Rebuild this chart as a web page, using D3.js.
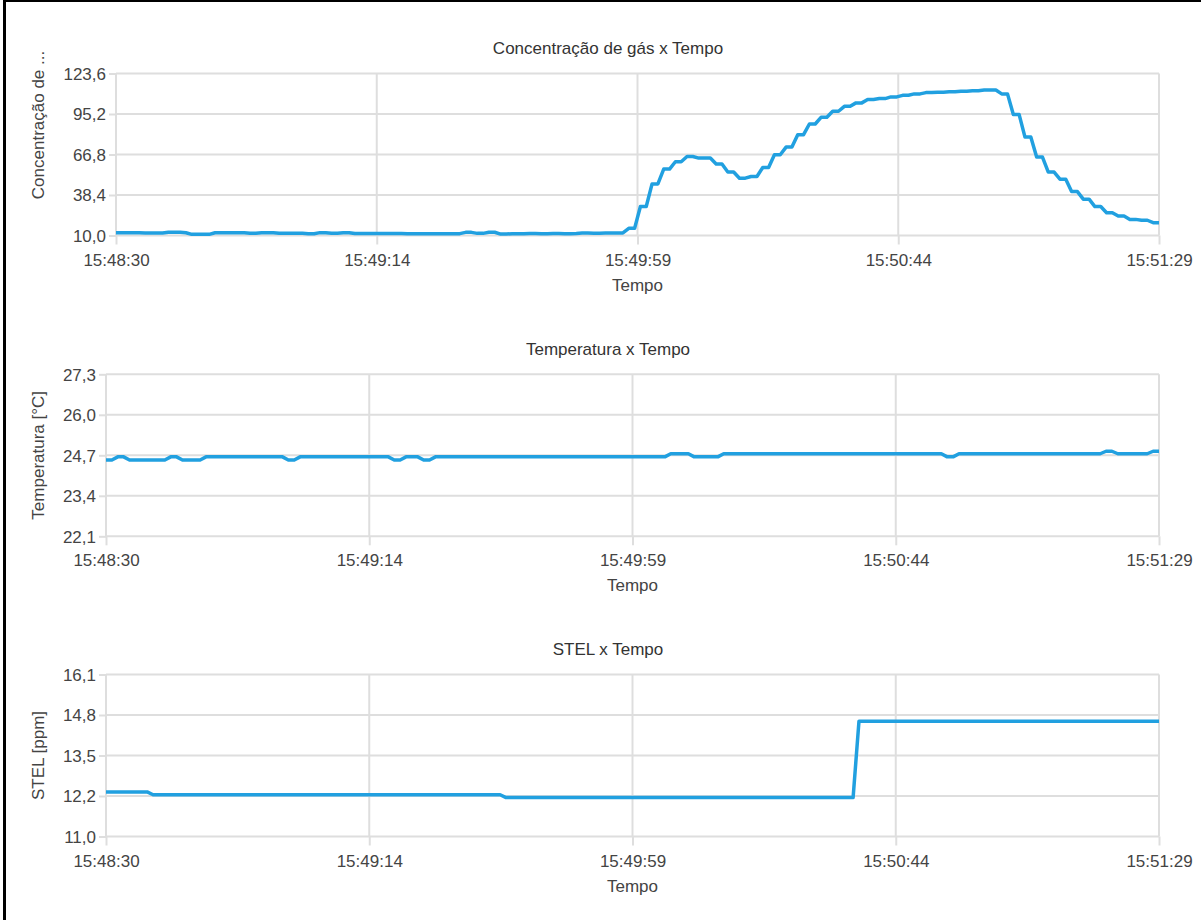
<!DOCTYPE html>
<html><head><meta charset="utf-8">
<script src="https://cdn.jsdelivr.net/npm/d3@7"></script>
<style>
body{margin:0;background:#fff}
svg{display:block}
text{font-family:"Liberation Sans",Arial,Helvetica,sans-serif}
</style>
</head><body>
<svg id="c" width="1201" height="920"></svg>
<script>
// ---------- data ----------
const timeLabels = ["15:48:30","15:49:14","15:49:59","15:50:44","15:51:29"];
const timeTickSeconds = [0, 44.75, 89.5, 134.25, 179];
const sampleSeconds = d3.range(0, 180); // one reading per second from 15:48:30

const gasValues = [
 11.9,11.9,11.9,11.9,11.9,11.7,11.7,11.7,11.7,12.3,
 12.3,12.3,11.9,10.8,10.8,10.8,10.8,11.9,11.9,11.9,
 11.9,11.9,11.9,11.6,11.6,12.0,12.0,12.0,11.6,11.6,
 11.6,11.6,11.6,11.2,11.2,12.0,12.0,11.6,11.6,12.0,
 12.0,11.4,11.4,11.4,11.4,11.4,11.4,11.4,11.4,11.4,
 11.3,11.3,11.3,11.3,11.3,11.3,11.3,11.3,11.3,11.3,
 12.2,12.2,11.5,11.5,12.3,12.3,11.0,11.0,11.3,11.3,
 11.3,11.4,11.4,11.3,11.3,11.4,11.4,11.3,11.3,11.4,
 11.7,11.7,11.6,11.6,11.7,11.7,11.8,11.8,15.0,15.0,
 30.3,30.3,46.2,46.2,56.6,56.6,61.7,61.7,65.4,65.4,
 64.3,64.3,64.3,60.1,60.1,54.5,54.5,50.2,50.2,51.4,
 51.4,57.7,57.7,66.6,66.6,72.0,72.0,80.7,80.7,88.2,
 88.2,92.9,92.9,97.1,97.1,100.6,100.6,103.0,103.0,105.3,
 105.3,106.0,106.0,107.2,107.2,108.3,108.3,109.3,109.3,110.2,
 110.2,110.5,110.5,110.8,110.8,111.2,111.2,111.5,111.5,112.0,
 112.0,112.0,109.3,109.3,94.8,94.8,79.0,79.0,65.0,65.0,
 54.5,54.5,49.5,49.5,40.8,40.8,35.5,35.5,30.3,30.3,
 26.0,26.0,23.7,23.7,21.3,21.3,20.7,20.7,19.0,19.0
];

const tempValues = [
 24.55,24.55,24.65,24.65,24.55,24.55,24.55,24.55,24.55,24.55,
 24.55,24.65,24.65,24.55,24.55,24.55,24.55,24.65,24.65,24.65,
 24.65,24.65,24.65,24.65,24.65,24.65,24.65,24.65,24.65,24.65,
 24.65,24.55,24.55,24.65,24.65,24.65,24.65,24.65,24.65,24.65,
 24.65,24.65,24.65,24.65,24.65,24.65,24.65,24.65,24.65,24.55,
 24.55,24.65,24.65,24.65,24.55,24.55,24.65,24.65,24.65,24.65,
 24.65,24.65,24.65,24.65,24.65,24.65,24.65,24.65,24.65,24.65,
 24.65,24.65,24.65,24.65,24.65,24.65,24.65,24.65,24.65,24.65,
 24.65,24.65,24.65,24.65,24.65,24.65,24.65,24.65,24.65,24.65,
 24.65,24.65,24.65,24.65,24.65,24.65,24.75,24.75,24.75,24.75,
 24.65,24.65,24.65,24.65,24.65,24.75,24.75,24.75,24.75,24.75,
 24.75,24.75,24.75,24.75,24.75,24.75,24.75,24.75,24.75,24.75,
 24.75,24.75,24.75,24.75,24.75,24.75,24.75,24.75,24.75,24.75,
 24.75,24.75,24.75,24.75,24.75,24.75,24.75,24.75,24.75,24.75,
 24.75,24.75,24.75,24.65,24.65,24.75,24.75,24.75,24.75,24.75,
 24.75,24.75,24.75,24.75,24.75,24.75,24.75,24.75,24.75,24.75,
 24.75,24.75,24.75,24.75,24.75,24.75,24.75,24.75,24.75,24.75,
 24.83,24.83,24.75,24.75,24.75,24.75,24.75,24.75,24.83,24.83
];

const stelValues = [
 12.33,12.33,12.33,12.33,12.33,12.33,12.33,12.33,12.24,12.24,
 12.24,12.24,12.24,12.24,12.24,12.24,12.24,12.24,12.24,12.24,
 12.24,12.24,12.24,12.24,12.24,12.24,12.24,12.24,12.24,12.24,
 12.24,12.24,12.24,12.24,12.24,12.24,12.24,12.24,12.24,12.24,
 12.24,12.24,12.24,12.24,12.24,12.24,12.24,12.24,12.24,12.24,
 12.24,12.24,12.24,12.24,12.24,12.24,12.24,12.24,12.24,12.24,
 12.24,12.24,12.24,12.24,12.24,12.24,12.24,12.24,12.15,12.15,
 12.15,12.15,12.15,12.15,12.15,12.15,12.15,12.15,12.15,12.15,
 12.15,12.15,12.15,12.15,12.15,12.15,12.15,12.15,12.15,12.15,
 12.15,12.15,12.15,12.15,12.15,12.15,12.15,12.15,12.15,12.15,
 12.15,12.15,12.15,12.15,12.15,12.15,12.15,12.15,12.15,12.15,
 12.15,12.15,12.15,12.15,12.15,12.15,12.15,12.15,12.15,12.15,
 12.15,12.15,12.15,12.15,12.15,12.15,12.15,12.15,14.6,14.6,
 14.6,14.6,14.6,14.6,14.6,14.6,14.6,14.6,14.6,14.6,
 14.6,14.6,14.6,14.6,14.6,14.6,14.6,14.6,14.6,14.6,
 14.6,14.6,14.6,14.6,14.6,14.6,14.6,14.6,14.6,14.6,
 14.6,14.6,14.6,14.6,14.6,14.6,14.6,14.6,14.6,14.6,
 14.6,14.6,14.6,14.6,14.6,14.6,14.6,14.6,14.6,14.6
];

const gasTickLabels  = ["10,0","38,4","66,8","95,2","123,6"];
const tempTickLabels = ["22,1","23,4","24,7","26,0","27,3"];
const stelTickLabels = ["11,0","12,2","13,5","14,8","16,1"];
const gasDomain  = [10.0, 123.6];
const tempDomain = [22.1, 27.3];
const stelDomain = [10.9, 16.1];

const titles  = ["Concentração de gás x Tempo", "Temperatura x Tempo", "STEL x Tempo"];
const yTitles = ["Concentração de ...", "Temperatura [°C]", "STEL [ppm]"];
const xTitle  = "Tempo";

// ---------- drawing ----------
const svg = d3.select("#c");
const LINE = "#21a0e0", GRID = "#dedede", TXT = "#444";

svg.append("rect").attr("x",3).attr("y",0).attr("width",3).attr("height",920).attr("fill","#000");
svg.append("rect").attr("x",3).attr("y",0).attr("width",1198).attr("height",2).attr("fill","#000");

const panels = [
  {values: gasValues,  ticks: gasTickLabels,  domain: gasDomain,  left: 116, top: 73.5,  yLabelY: 125},
  {values: tempValues, ticks: tempTickLabels, domain: tempDomain, left: 106, top: 374.3, yLabelY: null},
  {values: stelValues, ticks: stelTickLabels, domain: stelDomain, left: 106, top: 674.5, yLabelY: null}
];
const right = 1159, plotH = 162;

panels.forEach((p, i) => {
  const g = svg.append("g");
  const bottom = p.top + plotH;
  const x = d3.scaleLinear().domain([0, 179]).range([p.left, right]);
  const y = d3.scaleLinear().domain(p.domain).range([bottom, p.top]);
  const yTickVals = p.ticks.map((_, k) => p.domain[0] + k * (p.domain[1] - p.domain[0]) / (p.ticks.length - 1));

  // horizontal grid + y ticks
  const yAxis = d3.axisLeft(y).tickValues(yTickVals).tickSize(7).tickPadding(3)
      .tickFormat((d, k) => p.ticks[k]);
  const ya = g.append("g").attr("transform", `translate(${p.left},0)`).call(yAxis);
  ya.select(".domain").remove();
  ya.selectAll("line").attr("stroke", GRID).attr("stroke-width", 2);
  ya.selectAll("text").attr("fill", TXT).style("font-size", "17px").attr("dy", "0.35em");
  g.append("g").selectAll("line").data(yTickVals).join("line")
    .attr("x1", p.left).attr("x2", right).attr("y1", d => y(d)).attr("y2", d => y(d))
    .attr("stroke", GRID).attr("stroke-width", 2);

  // vertical grid + x ticks
  const xAxis = d3.axisBottom(x).tickValues(timeTickSeconds).tickSize(9).tickPadding(9)
      .tickFormat((d, k) => timeLabels[k]);
  const xa = g.append("g").attr("transform", `translate(0,${bottom})`).call(xAxis);
  xa.select(".domain").remove();
  xa.selectAll("line").attr("stroke", GRID).attr("stroke-width", 2);
  xa.selectAll("text").attr("fill", TXT).style("font-size", "17px");
  g.append("g").selectAll("line").data(timeTickSeconds).join("line")
    .attr("x1", d => x(d)).attr("x2", d => x(d)).attr("y1", p.top).attr("y2", bottom)
    .attr("stroke", GRID).attr("stroke-width", 2);

  // series line
  const data = sampleSeconds.map((t, k) => ({t, v: p.values[k]}));
  g.append("path").datum(data)
    .attr("fill", "none").attr("stroke", LINE).attr("stroke-width", 3.5)
    .attr("stroke-linejoin", "round")
    .attr("d", d3.line().x(d => x(d.t)).y(d => y(d.v)));

  // titles
  g.append("text").attr("x", 608).attr("y", p.top - 19.5).attr("text-anchor", "middle")
    .attr("fill", "#333").style("font-size", "17px").text(titles[i]);
  g.append("text").attr("x", (p.left + right) / 2).attr("y", bottom + 55).attr("text-anchor", "middle")
    .attr("fill", TXT).style("font-size", "17px").text(xTitle);
  const yl = p.yLabelY !== null ? p.yLabelY : (p.top + bottom) / 2;
  g.append("text").attr("transform", `translate(44,${yl}) rotate(-90)`).attr("text-anchor", "middle")
    .attr("fill", TXT).style("font-size", "17px").text(yTitles[i]);
});
</script>
</body></html>
